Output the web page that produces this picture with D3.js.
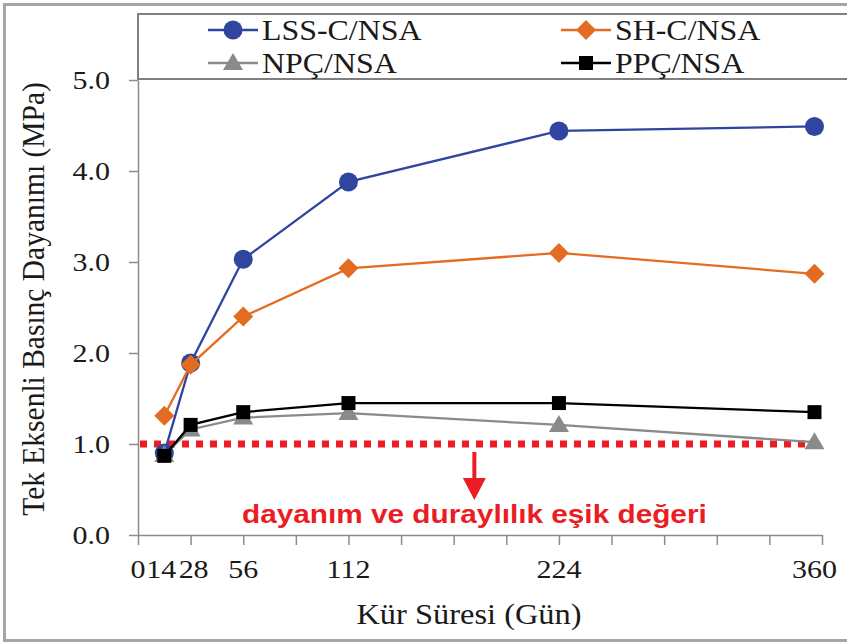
<!DOCTYPE html>
<html><head><meta charset="utf-8">
<script src="https://cdn.jsdelivr.net/npm/d3@7"></script>
<style>body{margin:0;background:#fff}svg{display:block}</style>
</head><body>
<script>
// ---- data ----
const days = [14, 28, 56, 112, 224, 360];
const seriesNames = ["LSS-C/NSA", "SH-C/NSA", "NPÇ/NSA", "PPÇ/NSA"];
const lssValues = [0.90, 1.89, 3.03, 3.88, 4.44, 4.49];
const shValues  = [1.31, 1.87, 2.40, 2.93, 3.10, 2.87];
const npcValues = [0.88, 1.16, 1.29, 1.34, 1.21, 1.02];
const ppcValues = [0.87, 1.21, 1.35, 1.45, 1.45, 1.35];
const xTickLabels = [0, 14, 28, 56, 112, 224, 360];
const xTickMarks = d3.range(0, 365, 28);
const yTickValues = [0, 1, 2, 3, 4, 5];
const thresholdValue = 1.0;
const thresholdText = "dayanım ve duraylılık eşik değeri";
const annotationDay = 179;
const xTitle = "Kür Süresi (Gün)";
const yTitle = "Tek Eksenli Basınç Dayanımı (MPa)";

const W = 847, H = 644;
const svg = d3.select("body").append("svg").attr("width", W).attr("height", H);
const serif = "'Liberation Serif','Times New Roman',serif";
const sans = "'Liberation Sans',Arial,sans-serif";
const axisColor = "#8c8c8c";
const red = "#ec1c24";

// outer border
svg.append("rect").attr("x", 4.5).attr("y", 4.5).attr("width", W + 10).attr("height", 636)
  .attr("fill", "none").attr("stroke", "#a6a6a6").attr("stroke-width", 3);

const x = d3.scaleLinear().domain([0, 364]).range([138, 822]);
const y = d3.scaleLinear().domain([0, 5]).range([535, 80]);

// stretched text helper
function stext(g, px, py, str, size, sx, anchor, family, weight, fill) {
  const t = g.append("text")
    .attr("transform", `translate(${px},${py}) scale(${sx},1)`)
    .attr("text-anchor", anchor).attr("font-family", family)
    .attr("font-size", size).attr("fill", fill || "#1a1a1a")
    .text(str);
  if (weight) t.attr("font-weight", weight);
  return t;
}

// axes
const xAxis = svg.append("g").attr("transform", `translate(0,${y(0)})`)
  .call(d3.axisBottom(x).tickValues(xTickMarks).tickFormat("").tickSize(10).tickSizeOuter(0));
const yAxis = svg.append("g").attr("transform", `translate(${x(0)},0)`)
  .call(d3.axisLeft(y).tickValues(yTickValues).tickFormat("").tickSize(9).tickSizeOuter(0));
[xAxis, yAxis].forEach(a => {
  a.selectAll("path,line").attr("stroke", axisColor).attr("stroke-width", 1.5);
});

// y tick labels
yTickValues.forEach(v => {
  stext(svg, 110, y(v) + 9, d3.format(".1f")(v), 25, 1.2, "end", serif);
});
// x tick labels
const xLabelShift = {14: -3, 28: 3};
xTickLabels.forEach(v => {
  stext(svg, x(v) + (xLabelShift[v] || 0), 578, String(v), 25, 1.2, "middle", serif);
});

// axis titles
stext(svg, 469, 624, xTitle, 29.5, 1.1, "middle", serif);
svg.append("text")
  .attr("transform", `translate(44,299) scale(1.1,1) rotate(-90)`)
  .attr("text-anchor", "middle").attr("font-family", serif).attr("font-size", 29.5)
  .attr("fill", "#1a1a1a").text(yTitle);

// threshold dotted line
svg.append("line")
  .attr("x1", x(0) + 2).attr("x2", x(362)).attr("y1", y(thresholdValue)).attr("y2", y(thresholdValue))
  .attr("stroke", red).attr("stroke-width", 7).attr("stroke-dasharray", "7,7");

// series
const colors = ["#2f45a0", "#e46c22", "#8a8a8a", "#000000"];
const seriesValues = [lssValues, shValues, npcValues, ppcValues];
const shapes = ["circle", "diamond", "triangle", "square"];

function markerPath(shape) {
  switch (shape) {
    case "circle": return d3.symbol(d3.symbolCircle, Math.PI * 9.5 * 9.5)();
    case "diamond": return "M0,-10L10,0L0,10L-10,0Z";
    case "triangle": return "M0,-10L10,7L-10,7Z";
    case "square": return "M-7,-7H7V7H-7Z";
  }
}

const line = d3.line().x(d => x(d[0])).y(d => y(d[1]));
seriesValues.forEach((vals, i) => {
  const pts = days.map((d, j) => [d, vals[j]]);
  const g = svg.append("g");
  g.append("path").attr("d", line(pts)).attr("fill", "none")
    .attr("stroke", colors[i]).attr("stroke-width", 2.3);
  g.selectAll("path.m").data(pts).join("path").attr("class", "m")
    .attr("d", markerPath(shapes[i]))
    .attr("transform", d => `translate(${x(d[0])},${y(d[1])})`)
    .attr("fill", colors[i]);
});

// annotation arrow + text
const ax = x(annotationDay);
svg.append("line").attr("x1", ax).attr("x2", ax).attr("y1", 452).attr("y2", 480)
  .attr("stroke", red).attr("stroke-width", 4);
svg.append("path").attr("d", `M${ax - 11.5},478L${ax + 11.5},478L${ax},500Z`).attr("fill", red);
stext(svg, ax, 523, thresholdText, 26, 1.145, "middle", sans, "bold", red);

// legend
svg.append("rect").attr("x", 138).attr("y", 14).attr("width", 720).attr("height", 65)
  .attr("fill", "#fff").attr("stroke", "#7f7f7f").attr("stroke-width", 2);
const legPos = [[233, 30], [586, 30], [233, 63], [586, 63]];
seriesNames.forEach((name, i) => {
  const [cx, cy] = legPos[i];
  svg.append("line").attr("x1", cx - 25).attr("x2", cx + 25).attr("y1", cy).attr("y2", cy)
    .attr("stroke", colors[i]).attr("stroke-width", 2.5);
  svg.append("path").attr("d", markerPath(shapes[i]))
    .attr("transform", `translate(${cx},${cy})`).attr("fill", colors[i]);
  stext(svg, cx + 29, cy + 9.5, name, 29, 1.1, "start", serif);
});
</script>
</body></html>
